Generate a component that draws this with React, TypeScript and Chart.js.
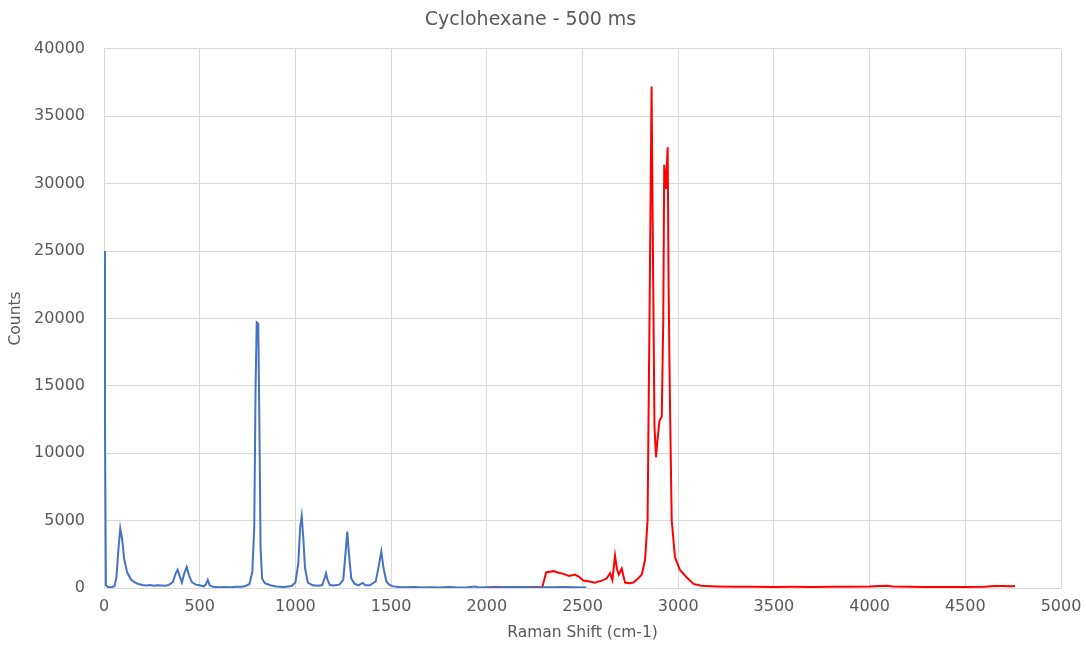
import React, { useEffect, useRef } from "react";
import { Chart, registerables } from "chart.js";

Chart.register(...registerables);

const TITLE = "Cyclohexane - 500 ms";
const X_TITLE = "Raman Shift (cm-1)";
const Y_TITLE = "Counts";

// Blue spectrum (low-wavenumber range)
const blueX = [
  0, 5, 10, 20, 40, 55, 65, 75, 85, 95, 105, 120, 140, 160, 180, 200, 220, 240, 260, 280,
  300, 320, 340, 360, 375, 385, 395, 407, 420, 432, 445, 460, 480, 500, 520, 532, 542, 552,
  570, 600, 630, 660, 690, 720, 740, 760, 775, 785, 792, 798, 806, 812, 818, 826, 840, 870,
  900, 940, 980, 1000, 1015, 1025, 1033, 1041, 1050, 1065, 1090, 1120, 1140, 1152, 1160,
  1168, 1180, 1200, 1230, 1250, 1262, 1271, 1280, 1292, 1310, 1330, 1351, 1365, 1390, 1420,
  1435, 1449, 1460, 1475, 1490, 1510, 1540, 1580, 1620, 1660, 1700, 1750, 1800, 1850, 1900,
  1938, 1960, 2000, 2050, 2100, 2150, 2200, 2250, 2300, 2350, 2400, 2450, 2520,
];
const blueY = [
  25000, 12000, 200, 80, 60, 150, 800, 2800, 4400, 3600, 2200, 1200, 650, 420, 300, 220, 180, 220, 160, 200,
  180, 160, 230, 450, 1100, 1350, 900, 420, 1100, 1560, 900, 420, 250, 200, 120, 250, 600, 200,
  90, 60, 80, 50, 90, 100, 150, 300, 1200, 4500, 15000, 19700, 19600, 12000, 3000, 700, 350, 200,
  120, 80, 150, 400, 1800, 4500, 5340, 3800, 1500, 400, 200, 160, 220, 700, 1090,
  600, 220, 180, 250, 600, 2600, 4180, 2500, 700, 300, 200, 380, 200, 200, 500,
  1600, 2700, 1500, 500, 250, 120, 80, 50, 70, 40, 60, 40, 70, 40, 60,
  110, 40, 60, 40, 80, 50, 70, 40, 60, 50, 70, 60, 40,
];

// Red spectrum (high-wavenumber range)
const redX = [
  2010, 2050, 2100, 2150, 2200, 2250, 2290, 2300, 2310, 2330, 2350, 2370, 2400, 2430, 2460,
  2480, 2504, 2530, 2565, 2600, 2626, 2644, 2656, 2670, 2680, 2690, 2705, 2722, 2745, 2766,
  2790, 2810, 2827, 2840, 2850, 2861, 2868, 2876, 2884, 2892, 2902, 2914, 2922, 2927, 2936,
  2945, 2950, 2957, 2966, 2983, 3009, 3044, 3080, 3120, 3200, 3300, 3400, 3500, 3600, 3700,
  3800, 3900, 4000, 4050, 4089, 4120, 4200, 4300, 4400, 4500, 4600, 4650, 4700, 4740, 4760,
];
const redY = [
  60, 70, 50, 70, 60, 70, 80, 600, 1150, 1200, 1250, 1150, 1050, 900, 1000,
  850, 560, 500, 400, 550, 700, 1100, 600, 2400, 1400, 1000, 1450, 400, 350, 400,
  700, 1000, 2100, 5000, 20000, 37200, 25000, 12000, 9700, 11000, 12400, 12700, 19900, 31400, 29600,
  32700, 22000, 13700, 5050, 2300, 1340, 800, 300, 160, 120, 100, 90, 80, 90, 80,
  90, 100, 110, 140, 170, 120, 90, 80, 70, 80, 90, 140, 150, 130, 150,
];

const X_MIN = 0;
const X_MAX = 5000;
const X_STEP = 500;
const Y_MIN = 0;
const Y_MAX = 40000;
const Y_STEP = 5000;

const FONT = "'DejaVu Sans', 'Open Sans', sans-serif";
const TEXT_COLOR = "#595959";
const GRID_COLOR = "#d9d9d9";

export default function App() {
  const canvasRef = useRef<HTMLCanvasElement | null>(null);

  useEffect(() => {
    if (!canvasRef.current) return;
    const toPts = (xs: number[], ys: number[]) => xs.map((x, i) => ({ x, y: ys[i] }));
    const chart = new Chart(canvasRef.current, {
      type: "line",
      data: {
        datasets: [
          {
            label: "Low range",
            data: toPts(blueX, blueY),
            borderColor: "#4472C4",
            borderWidth: 2,
            pointRadius: 0,
            tension: 0,
            fill: false,
          },
          {
            label: "High range",
            data: toPts(redX, redY),
            borderColor: "#FF0000",
            borderWidth: 2,
            pointRadius: 0,
            tension: 0,
            fill: false,
          },
        ],
      },
      options: {
        animation: false,
        responsive: false,
        maintainAspectRatio: false,
        layout: { padding: { left: 0, right: 25, top: 0, bottom: 0 } },
        plugins: {
          legend: { display: false },
          tooltip: { enabled: false },
          title: {
            display: true,
            text: TITLE,
            color: TEXT_COLOR,
            font: { family: FONT, size: 19, weight: "normal" },
            padding: { top: 9, bottom: 17 },
          },
        },
        scales: {
          x: {
            type: "linear",
            min: X_MIN,
            max: X_MAX,
            ticks: {
              stepSize: X_STEP,
              color: TEXT_COLOR,
              font: { family: FONT, size: 16 },
              padding: 9,
              maxRotation: 0,
              callback: (v: any) => String(v),
            },
            grid: { color: GRID_COLOR, drawTicks: false, lineWidth: 1 },
            border: { color: GRID_COLOR },
            title: {
              display: true,
              text: X_TITLE,
              color: TEXT_COLOR,
              font: { family: FONT, size: 15.5 },
              padding: { top: 0, bottom: 3 },
            },
            afterFit: (scale: any) => {
              scale.height = 57;
              scale.paddingLeft = 0;
              scale.paddingRight = 0;
            },
          },
          y: {
            type: "linear",
            min: Y_MIN,
            max: Y_MAX,
            ticks: {
              stepSize: Y_STEP,
              color: TEXT_COLOR,
              font: { family: FONT, size: 16 },
              padding: 19,
              callback: (v: any) => String(v),
            },
            grid: { color: GRID_COLOR, drawTicks: false, lineWidth: 1 },
            border: { display: false },
            title: {
              display: true,
              text: Y_TITLE,
              color: TEXT_COLOR,
              font: { family: FONT, size: 15.5 },
              padding: { top: 7, bottom: 0 },
            },
            afterFit: (scale: any) => {
              scale.width = 104;
              scale.paddingTop = 0;
              scale.paddingBottom = 0;
            },
          },
        },
      },
    });
    return () => chart.destroy();
  }, []);

  return (
    <div style={{ position: "fixed", left: 0, top: 0, width: 1086, height: 645, background: "#fff" }}>
      <canvas ref={canvasRef} width={1086} height={645} style={{ display: "block", width: 1086, height: 645 }} />
    </div>
  );
}
